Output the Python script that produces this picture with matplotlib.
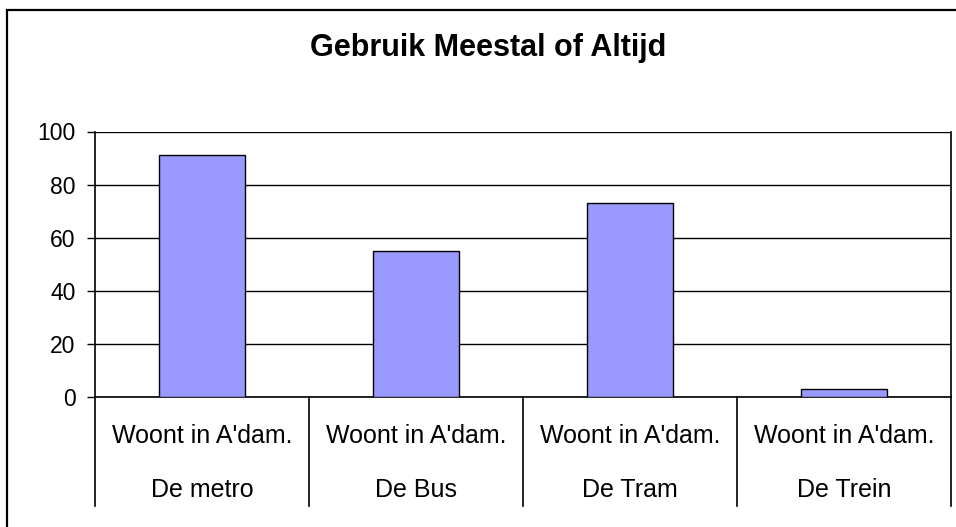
import matplotlib.pyplot as plt
import matplotlib.transforms as mtransforms
from matplotlib.patches import Rectangle

# Gegevens
groepen = ['De metro', 'De Bus', 'De Tram', 'De Trein']
subcategorie = "Woont in A'dam."
waarden = [91, 55, 73, 3]

plt.rcParams['font.family'] = ['Liberation Sans', 'DejaVu Sans']

fig = plt.figure(figsize=(9.56, 5.27), dpi=100)
W, H = 956, 527
ax = fig.add_axes([95 / W, 1 - 397 / H, (951 - 95) / W, (397 - 131.5) / H])

x = list(range(len(groepen)))
ax.bar(x, waarden, width=0.4, color='#9999FF', edgecolor='black', linewidth=1, zorder=3)

ax.set_xlim(-0.5, len(groepen) - 0.5)
ax.set_ylim(0, 100)
ax.set_yticks(range(0, 101, 20))
ax.tick_params(axis='y', direction='out', length=6, width=1, labelsize=16.5, pad=8)
ax.set_xticks([])
ax.yaxis.grid(True, color='black', linewidth=1)
ax.set_axisbelow(True)
ax.spines['top'].set_visible(False)
for s in ['left', 'right', 'bottom']:
    ax.spines[s].set_linewidth(1.2)

# Categorie-as met twee niveaus
trans = mtransforms.blended_transform_factory(ax.transData, ax.transAxes)
onder = -(506 - 397) / (397 - 131.5)
for grens in [i - 0.5 for i in range(len(groepen) + 1)]:
    ax.plot([grens, grens], [0, onder], color='black', linewidth=1.2,
            transform=trans, clip_on=False)
for i, g in enumerate(groepen):
    ax.text(i, -(436 - 397) / 265.5, subcategorie, transform=trans, ha='center',
            va='center', fontsize=18)
    ax.text(i, -(490 - 397) / 265.5, g, transform=trans, ha='center', va='center',
            fontsize=18)

fig.text(488 / W, 1 - 48 / H, 'Gebruik Meestal of Altijd',
         ha='center', va='center', fontsize=22, fontweight='bold')

# Buitenrand van de grafiek
fig.patches.append(Rectangle((7 / W, -0.1), 1.2, 1 - 10 / H + 0.1, transform=fig.transFigure,
                             fill=False, edgecolor='black', linewidth=1.6))

fig.savefig('out.png', dpi=100)
